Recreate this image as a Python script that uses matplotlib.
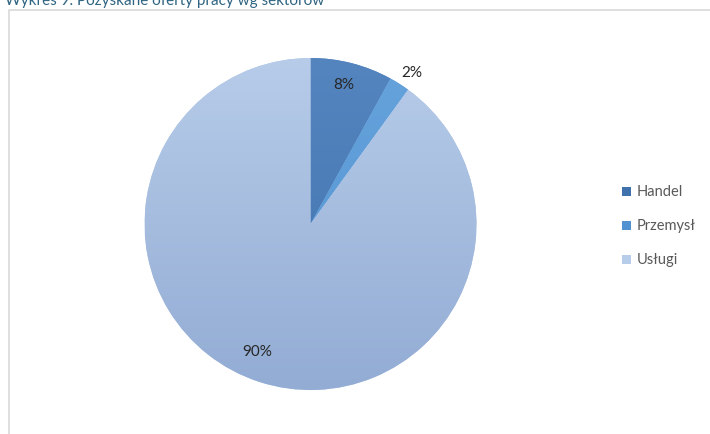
import numpy as np
import matplotlib
matplotlib.use("Agg")
import matplotlib.pyplot as plt
from matplotlib.colors import LinearSegmentedColormap

plt.rcParams['font.family'] = ['Lato', 'DejaVu Sans']

sectors = ["Handel", "Przemysł", "Usługi"]
shares = [8, 2, 90]
labels = ["8%", "2%", "90%"]
top_colors = ["#5585bf", "#66a3dc", "#b7cce9"]
bottom_colors = ["#3f72ad", "#5292d2", "#93acd4"]

fig = plt.figure(figsize=(7.10, 4.35), dpi=100)

# cut-off heading of the page above the chart
fig.text(5 / 710, 1 - 4.5 / 435, "Wykres 9. Pozyskane oferty pracy wg sektorów",
         fontsize=11, color="#2f6482", va="baseline", ha="left")

# chart frame
frame = plt.Rectangle((8.5 / 710, -0.1), 1.1, 1 - 10.5 / 435 + 0.1,
                      transform=fig.transFigure, fill=False,
                      edgecolor="#d9d9d9", linewidth=1.2)
fig.patches.append(frame)

cx, cy, r = 310.5, 225, 166
ax = fig.add_axes([(cx - r) / 710, (435 - cy - r) / 435, 2 * r / 710, 2 * r / 435])
wedges, _ = ax.pie(shares, colors=top_colors, startangle=90, counterclock=False,
                   radius=1, wedgeprops=dict(linewidth=0))

# vertical gradient in each slice
grad = np.linspace(0, 1, 256).reshape(-1, 1)
for w, c1, c2 in zip(wedges, top_colors, bottom_colors):
    cmap = LinearSegmentedColormap.from_list("g", [c2, c1])
    im = ax.imshow(grad, cmap=cmap, extent=[-1, 1, -1, 1], origin="lower",
                   aspect="auto", zorder=w.get_zorder() + 0.1)
    im.set_clip_path(w)
ax.set_xlim(-1, 1)
ax.set_ylim(-1, 1)
ax.set_aspect("equal")
ax.axis("off")

# percentage labels
label_pos = [(344, 85), (412, 73), (257, 352)]
for txt, (px, py) in zip(labels, label_pos):
    fig.text(px / 710, 1 - py / 435, txt, fontsize=11, color="#262626",
             ha="center", va="center", zorder=5)

# legend
for i, (name, col) in enumerate(zip(sectors, top_colors)):
    y = 192 + i * 34
    fig.patches.append(plt.Rectangle((622 / 710, 1 - (y + 4.5) / 435), 9 / 710, 9 / 435,
                                     transform=fig.transFigure, facecolor=bottom_colors[i] if i < 2 else col,
                                     edgecolor="none"))
    fig.text(637 / 710, 1 - y / 435, name, fontsize=10.5, color="#595959",
             ha="left", va="center")

fig.savefig("out.png", dpi=100)
